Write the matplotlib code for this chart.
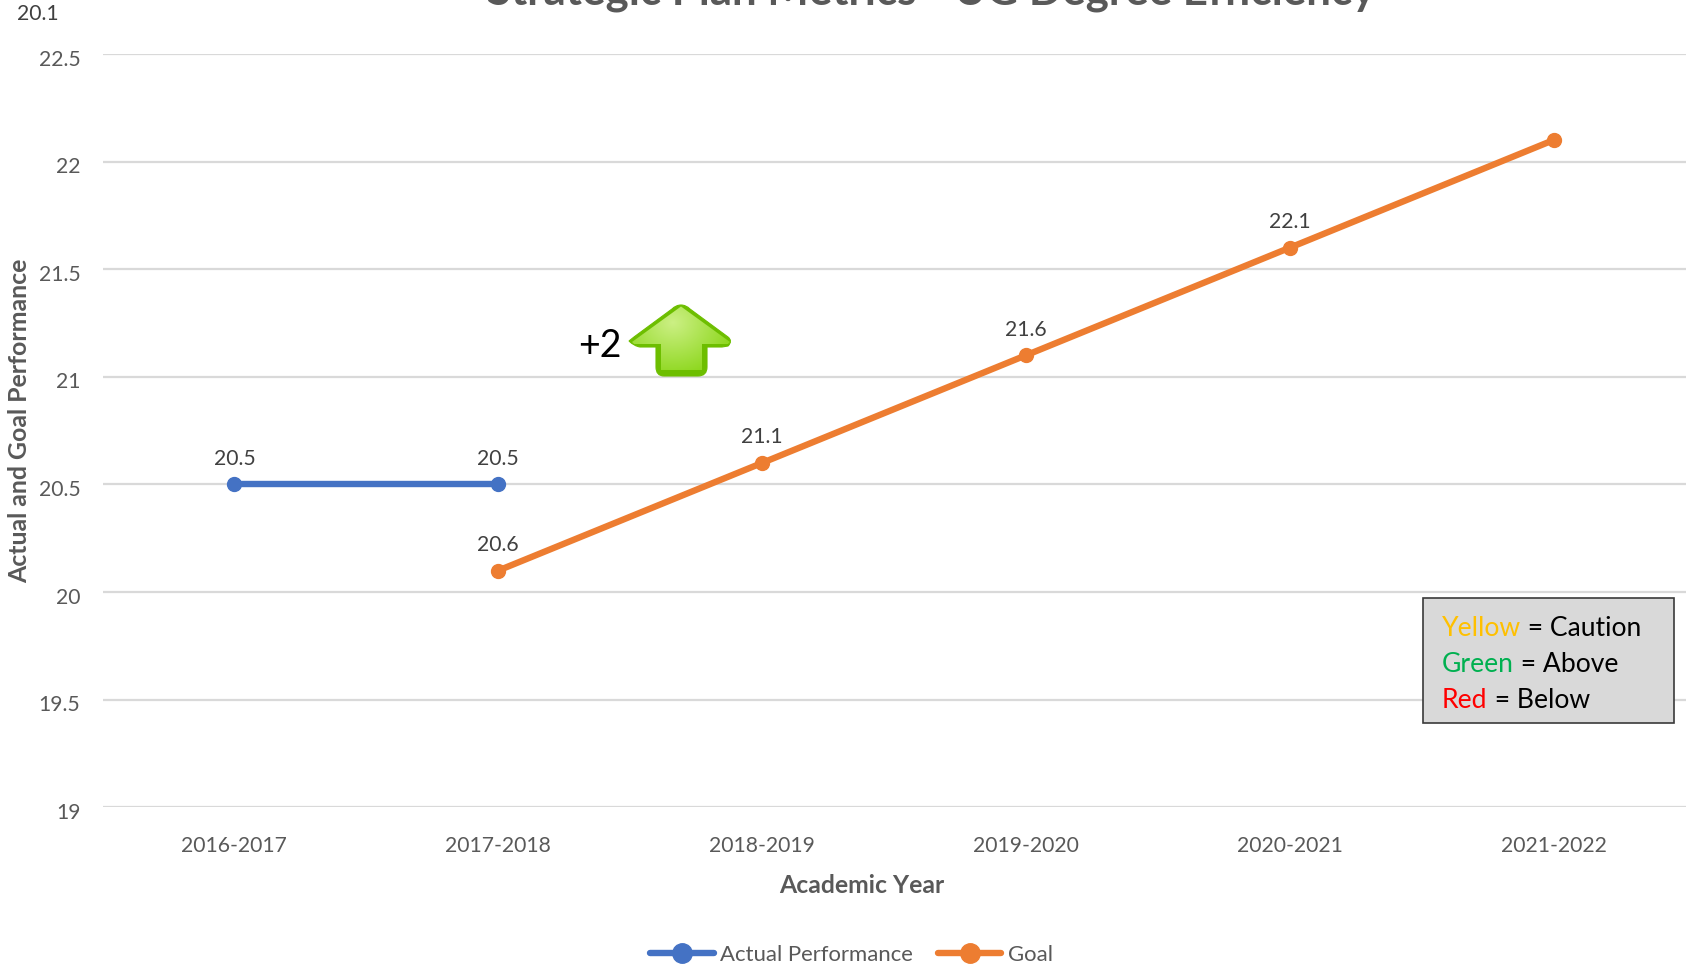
import numpy as np
import matplotlib
matplotlib.use("Agg")
import matplotlib.pyplot as plt
from matplotlib.path import Path
from matplotlib.patches import PathPatch, Rectangle
from matplotlib.lines import Line2D

plt.rcParams['font.family'] = ['Lato', 'DejaVu Sans']

years = ['2016-2017', '2017-2018', '2018-2019', '2019-2020', '2020-2021', '2021-2022']
actual_years = ['2016-2017', '2017-2018']
actual_values = [20.5, 20.5]
actual_labels = ['20.5', '20.5']
goal_years = ['2017-2018', '2018-2019', '2019-2020', '2020-2021', '2021-2022']
goal_values = [20.1, 20.6, 21.1, 21.6, 22.1]
goal_labels = ['20.6', '21.1', '21.6', '22.1', '']
y_ticks = [19, 19.5, 20, 20.5, 21, 21.5, 22, 22.5]
y_tick_labels = ['19', '19.5', '20', '20.5', '21', '21.5', '22', '22.5']
title = 'Strategic Plan Metrics - UG Degree Efficiency'
stray_label = '20.1'
change_label = '+2'
key_rows = [[('Yellow', '#FFC000'), (' = Caution', '#000000')],
            [('Green', '#00B050'), (' = Above', '#000000')],
            [('Red', '#FF0000'), (' = Below', '#000000')]]

W, H = 1686, 970
BLUE, ORANGE, GREY, DARK = '#4472C4', '#ED7D31', '#595959', '#404040'
TOP, BOT = 55.0, 808.3
fig = plt.figure(figsize=(W / 100, H / 100), dpi=100, facecolor='white')
ax = fig.add_axes([102.5 / W, 1 - BOT / H, (1685.5 - 102.5) / W, (BOT - TOP) / H])
ax.set_xlim(-0.5, 5.5)
ax.set_ylim(19, 22.5)
for s in ax.spines.values():
    s.set_visible(False)
ax.set_yticks(y_ticks)
ax.set_yticklabels([])
ax.set_xticks(range(len(years)))
ax.set_xticklabels([])
ax.tick_params(length=0)
ax.grid(axis='y', color='#D9D9D9', lw=1.6)
ax.set_axisbelow(True)

pos = {y: i for i, y in enumerate(years)}
ax_x = [pos[y] for y in actual_years]
gx = [pos[y] for y in goal_years]
ax.plot(ax_x, actual_values, color=BLUE, lw=4.6, marker='o', ms=10, clip_on=False, zorder=3)
ax.plot(gx, goal_values, color=ORANGE, lw=4.6, marker='o', ms=10, clip_on=False, zorder=3)
for x, v, t in list(zip(ax_x, actual_values, actual_labels)) + list(zip(gx, goal_values, goal_labels)):
    ax.annotate(t, (x, v), xytext=(0, 19.2), textcoords='offset points', ha='center', va='center',
                fontsize=15.2, color=DARK)

# overlay in figure pixels for text furniture
ov = fig.add_axes([0, 0, 1, 1], facecolor='none')
ov.set_xlim(0, W)
ov.set_ylim(H, 0)
ov.axis('off')

for t, v in zip(y_tick_labels, y_ticks):
    ypx = BOT - (v - 19) / 3.5 * (BOT - TOP)
    ov.text(80.5, ypx + 4.5, t, ha='right', va='center', fontsize=15.2, color=GREY)
for i, t in enumerate(years):
    ov.text(234.4 + i * 263.85, 846, t, ha='center', va='center', fontsize=15.2, color=GREY)

ov.text(931, 4, title, ha='center', va='baseline', fontsize=31.6, fontweight='bold', color=GREY)
ov.text(38, 14, stray_label, ha='center', va='center', fontsize=15.2, color=DARK)
ov.text(20, 421, 'Actual and Goal Performance', rotation=90, ha='center', va='center',
        fontsize=17.9, fontweight='bold', color=GREY)
ov.text(862, 885.5, 'Academic Year', ha='center', va='center', fontsize=17.8, fontweight='bold', color=GREY)

# legend
for x0, x1, c, lab, tx in [(650, 714, BLUE, 'Actual Performance', 720), (938, 1001, ORANGE, 'Goal', 1008)]:
    ov.add_line(Line2D([x0, x1], [953.5, 953.5], color=c, lw=4.6, solid_capstyle='round'))
    ov.add_line(Line2D([(x0 + x1) / 2], [953.5], color=c, marker='o', ms=14))
    ov.text(tx, 955, lab, ha='left', va='center', fontsize=15.9, color=GREY)

# +2 and arrow
ov.text(600, 346, change_label, ha='center', va='center', fontsize=27, color='black')
verts = [(681, 306), (686, 306), (690, 310), (728, 338), (733, 342), (728, 347), (722, 348),
         (707, 348), (707, 348), (707, 368), (707, 377), (698, 377), (664, 377), (656, 377), (656, 368),
         (656, 348), (656, 348), (640, 348), (634, 347), (629, 342), (634, 338), (672, 310), (676, 306), (681, 306)]
codes = [Path.MOVETO, Path.CURVE3, Path.CURVE3, Path.LINETO, Path.CURVE3, Path.CURVE3, Path.LINETO,
         Path.LINETO, Path.LINETO, Path.LINETO, Path.CURVE3, Path.CURVE3, Path.LINETO, Path.CURVE3, Path.CURVE3,
         Path.LINETO, Path.LINETO, Path.LINETO, Path.CURVE3, Path.CURVE3, Path.LINETO, Path.LINETO, Path.CURVE3, Path.CURVE3]
arrow_path = Path(verts, codes)
ov.add_patch(PathPatch(arrow_path, fc='#6DBE00', ec='#6DBE00', lw=0.8, zorder=4))
yy, xx = np.mgrid[0:1:120j, 0:1:120j]
d = np.clip(np.hypot((xx - 0.42) / 0.7, (yy - 0.25) / 0.95), 0, 1)[..., None]
inner, outer = np.array([0.80, 0.94, 0.52]), np.array([0.52, 0.83, 0.06])
grad = inner * (1 - d) + outer * d
im = ov.imshow(grad, extent=[630, 732, 372, 307], aspect='auto', zorder=5, interpolation='bilinear')
iv = [(681, 307.5), (730, 343), (728, 345), (702, 345), (702, 371), (661, 371), (661, 345), (634, 345), (632, 343), (681, 307.5)]
clip = PathPatch(Path(iv), transform=ov.transData, fc='none', ec='none')
ov.add_patch(clip)
im.set_clip_path(clip)
ov.set_xlim(0, W)
ov.set_ylim(H, 0)

# colour key
ov.add_patch(Rectangle((1423, 598.5), 251, 125.5, fc='#D9D9D9', ec='#3A3A3A', lw=1.2, zorder=4))
fig.canvas.draw()
r = fig.canvas.get_renderer()
for row, base in zip(key_rows, [636, 672, 708]):
    x = 1442
    for s, c in row:
        ov.text(x, base, s, ha='left', va='baseline', fontsize=19.1, color=c, zorder=5)
        probe = ov.text(0, 0, s.replace(' ', '\u00a0'), fontsize=19.1)
        x += probe.get_window_extent(r).width
        probe.remove()

fig.savefig('out.png', dpi=100, facecolor='white')
